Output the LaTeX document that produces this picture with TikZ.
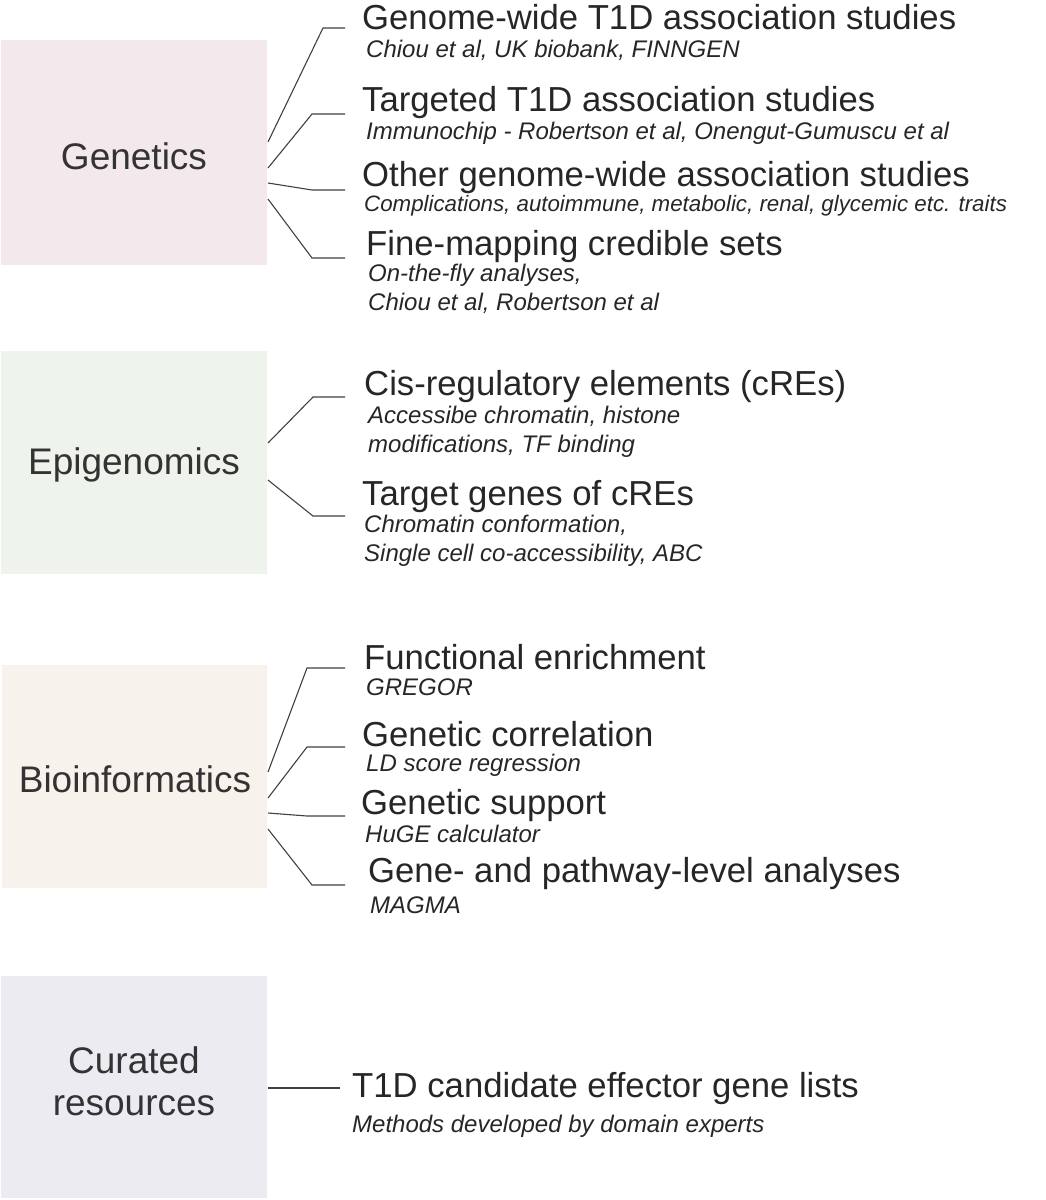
\documentclass[tikz,border=0pt]{standalone}
\usepackage{fontspec}
\setmainfont{Liberation Sans}
\begin{document}
\begin{tikzpicture}[x=1pt,y=-1pt,
  box/.style={fill=#1,draw=none},
  lab/.style={text=black!80,font=\fontsize{37}{42}\selectfont,align=center},
  ttl/.style={anchor=west,inner sep=0,text=black!85,font=\fontsize{34.7}{38}\selectfont},
  sub/.style={anchor=west,inner sep=0,text=black!85,align=left,font=\fontsize{24}{28.5}\selectfont\itshape},
  con/.style={draw=black!75,line width=1.1pt}]
\useasboundingbox (0,0) rectangle (1045,1200);
\definecolor{cg}{HTML}{F3E8EB}\definecolor{ce}{HTML}{EEF3EC}
\definecolor{cb}{HTML}{F8F2EC}\definecolor{cc}{HTML}{EDEBF2}
% boxes
\fill[cg] (1,40) rectangle (267,265); \node[lab] (gen) at (134,156) {Genetics};
\fill[ce] (1,351) rectangle (267,574); \node[lab] (epi) at (134,465) {Epigenomics};
\fill[cb] (2,665) rectangle (267,888); \node[lab] (bio) at (135,779) {Bioinformatics};
\fill[cc] (1,976) rectangle (267,1198); \node[lab] (cur) at (134,1081) {Curated\\resources};
% genetics
\node[ttl] (g1) at (362,17) {Genome-wide T1D association studies};
\node[sub] (g1s) at (366,50) {Chiou et al, UK biobank, FINNGEN};
\node[ttl] (g2) at (362,103) {Targeted T1D association studies};
\node[sub] (g2s) at (366,133) {Immunochip - Robertson et al, Onengut-Gumuscu et al};
\node[ttl] (g3) at (362,178) {Other genome-wide association studies};
\node[sub,font=\fontsize{22.3}{26}\selectfont\itshape] (g3s) at (364,206) {Complications, autoimmune, metabolic, renal, glycemic etc. traits};
\node[ttl] (g4) at (366,247) {Fine-mapping credible sets};
\node[sub] (g4s) at (368,289) {On-the-fly analyses,\\Chiou et al, Robertson et al};
\coordinate (c1) at (345,28); \coordinate (c2) at (345,114); \coordinate (c3) at (345,190); \coordinate (c4) at (345,258);
\draw[con] (268,142) -- (323,28) -- (c1);
\draw[con] (268,168) -- (312,114) -- (c2);
\draw[con] (268,183) -- (312,190) -- (c3);
\draw[con] (268,199) -- (312,258) -- (c4);
% epigenomics
\node[ttl] (e1) at (364,387) {Cis-regulatory elements (cREs)};
\node[sub] (e1s) at (368,432) {Accessibe chromatin, histone\\modifications, TF binding};
\node[ttl] (e2) at (362,497) {Target genes of cREs};
\node[sub] (e2s) at (364,541) {Chromatin conformation,\\Single cell co-accessibility, ABC};
\coordinate (d1) at (345,397); \coordinate (d2) at (345,516);
\draw[con] (268,443) -- (313,397) -- (d1);
\draw[con] (268,480) -- (313,516) -- (d2);
% bioinformatics
\node[ttl] (b1) at (364,657) {Functional enrichment};
\node[sub] (b1s) at (366,687) {GREGOR};
\node[ttl] (b2) at (362,734) {Genetic correlation};
\node[sub] (b2s) at (366,765) {LD score regression};
\node[ttl] (b3) at (361,806) {Genetic support};
\node[sub] (b3s) at (365,834) {HuGE calculator};
\node[ttl] (b4) at (368,874) {Gene- and pathway-level analyses};
\node[sub] (b4s) at (370,905) {MAGMA};
\coordinate (f1) at (345,668); \coordinate (f2) at (345,747); \coordinate (f3) at (345,816); \coordinate (f4) at (345,885);
\draw[con] (268,772) -- (307,668) -- (f1);
\draw[con] (268,798) -- (307,747) -- (f2);
\draw[con] (268,813) -- (307,816) -- (f3);
\draw[con] (268,829) -- (312,885) -- (f4);
% curated
\node[ttl] (k1) at (352,1089) {T1D candidate effector gene lists};
\node[sub] (k1s) at (352,1126) {Methods developed by domain experts};
\coordinate (h1) at (340,1088);
\draw[con] (268,1088) -- (h1);
\end{tikzpicture}
\end{document}
